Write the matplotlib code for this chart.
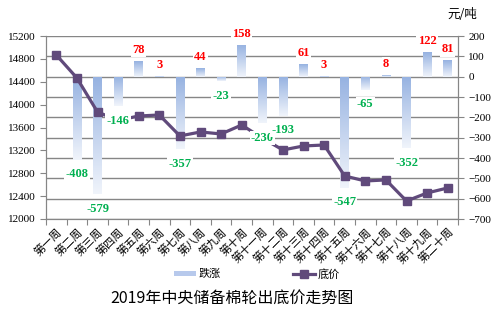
import matplotlib
matplotlib.use('Agg')
import matplotlib.pyplot as plt
import numpy as np
from matplotlib.colors import LinearSegmentedColormap
from matplotlib.patches import Rectangle
from matplotlib.lines import Line2D

plt.rcParams['font.family'] = ['Noto Sans CJK SC', 'DejaVu Sans']

# data
weeks = ['第一周', '第二周', '第三周', '第四周', '第五周', '第六周', '第七周', '第八周',
         '第九周', '第十周', '第十一周', '第十二周', '第十三周', '第十四周', '第十五周',
         '第十六周', '第十七周', '第十八周', '第十九周', '第二十周']
change = [np.nan, -408, -579, -146, 78, 3, -357, 44, -23, 158,
          -230, -193, 61, 3, -547, -65, 8, -352, 122, 81]
price = [14868, 14466, 13871, 13725, 13801, 13819, 13452, 13522, 13487, 13644,
         13414, 13207, 13277, 13294, 12752, 12665, 12683, 12315, 12455, 12543]

left_ticks = np.arange(12000, 15201, 400)
right_ticks = np.arange(-700, 201, 100)

serif = 'Liberation Serif'
grey = '#868686'
purple = '#604a7b'

fig = plt.figure(figsize=(4.96, 3.17), dpi=100)
ax = fig.add_axes([46 / 496, 1 - 219 / 317, 412 / 496, 183 / 317])
ax2 = ax.twinx()
ax.set_zorder(ax2.get_zorder() + 1)
ax.patch.set_visible(False)

x = np.arange(len(weeks))

# bars on the right scale, vertical gradient
cmap = LinearSegmentedColormap.from_list('bl', ['#96b2e1', '#f0f4fb'])
bars = ax2.bar(x, change, width=0.42, color='none', edgecolor='none', zorder=2)
grad = np.linspace(0, 1, 64).reshape(-1, 1)
for b in bars:
    h = b.get_height()
    if np.isnan(h) or h == 0:
        continue
    x0, w = b.get_x(), b.get_width()
    lo, hi = min(0, h), max(0, h)
    im = ax2.imshow(grad, cmap=cmap, aspect='auto', extent=[x0, x0 + w, lo, hi],
                    origin='upper', zorder=2)
    im.set_clip_path(b)

ax2.set_ylim(-700, 200)
ax2.set_yticks(right_ticks)
ax2.grid(axis='y', color=grey, linewidth=1, zorder=0)
ax2.set_axisbelow(True)

# price line on the left scale
ax.plot(x, price, color=purple, linewidth=2.3, marker='s', markersize=5.5, zorder=3)
ax.set_ylim(12000, 15200)
ax.set_yticks(left_ticks)
ax.set_xlim(-0.5, len(weeks) - 0.5)

# data labels
for i, v in enumerate(change):
    if np.isnan(v):
        continue
    if v >= 0:
        col, off, va = '#ff0000', 3.5, 'bottom'
    else:
        col, off, va = '#00b050', -6, 'top'
    ax.annotate(str(int(v)), xy=(i, v), xycoords=ax2.transData,
                xytext=(0, off), textcoords='offset points', ha='center', va=va,
                color=col, fontsize=9, fontweight='bold', family=serif, zorder=5,
                bbox=dict(boxstyle='square,pad=0.1', fc='white', ec='none'))

# axes styling
for a in (ax, ax2):
    a.spines['top'].set_visible(False)
    for s in ('left', 'right', 'bottom'):
        a.spines[s].set_color(grey)
ax.set_xticks(np.arange(-0.5, len(weeks)), minor=False)
ax.set_xticklabels([])
ax.set_xticks(x, minor=True)
ax.set_xticklabels(weeks, minor=True, rotation=45, ha='right', va='top',
                   rotation_mode='anchor', fontsize=8)
ax.tick_params(axis='x', which='minor', length=0, pad=5)
ax.tick_params(axis='x', which='major', length=4, color=grey)
ax.tick_params(axis='y', length=4, color=grey, labelsize=8)
ax2.tick_params(axis='y', length=4, color=grey, labelsize=8)
for lab in ax.get_yticklabels() + ax2.get_yticklabels():
    lab.set_family(serif)

# unit label
fig.text(462 / 496, 1 - 15 / 317, '元/吨', ha='center', va='center', fontsize=9)

# legend
handles = [Rectangle((0, 0), 1, 1, fc='#b7c9ec', ec='none'),
           Line2D([], [], color=purple, linewidth=2.3, marker='s', markersize=5.5)]
fig.legend(handles, ['跌涨', '底价'], loc='center', bbox_to_anchor=(257 / 496, 1 - 274 / 317),
           ncol=2, frameon=False, fontsize=8, handlelength=2, handleheight=0.35,
           handletextpad=0.2, columnspacing=6.5)

fig.text(232 / 496, 1 - 298 / 317, '2019年中央储备棉轮出底价走势图', ha='center',
         va='center', fontsize=11.5)

fig.savefig('out.png', dpi=100)
